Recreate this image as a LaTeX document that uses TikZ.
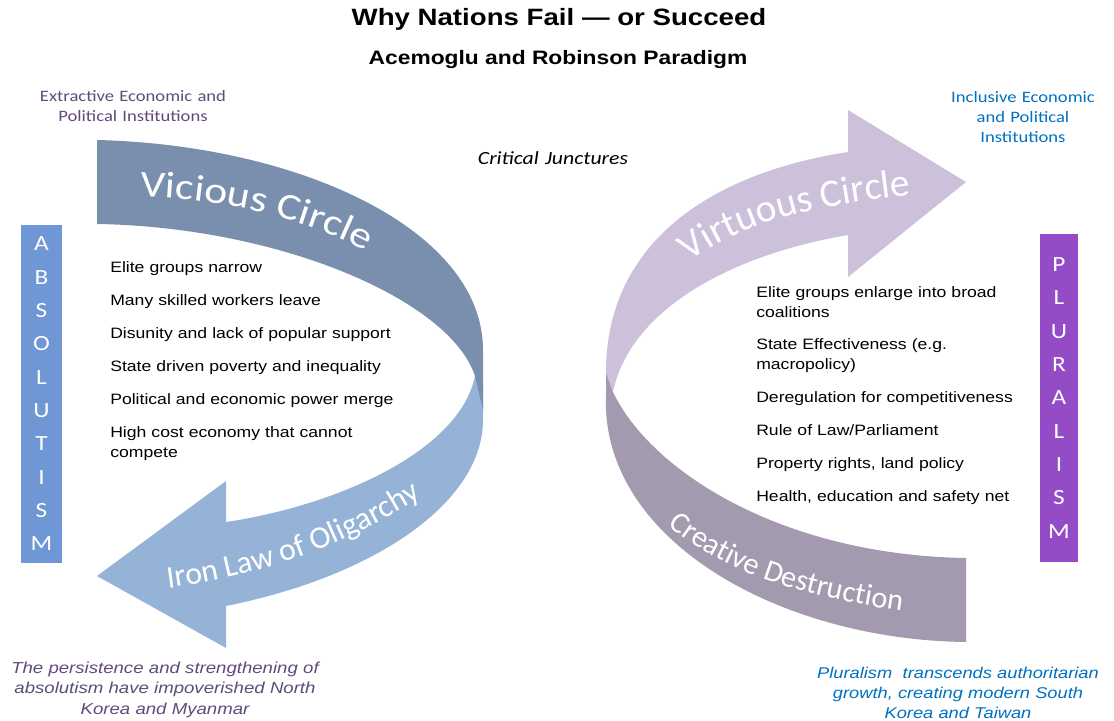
\documentclass[tikz,border=0pt]{standalone}
\usepackage{fontspec}
\setmainfont{Liberation Sans}[FakeStretch=1.17]
\newfontfamily\calib{Carlito}[FakeStretch=1.17]
\newfontfamily\calibn{Carlito}
\usepackage{xcolor}
\usepackage{tikz}
\usetikzlibrary{positioning, decorations.text}

\definecolor{vicious}{HTML}{7A8FAE}
\definecolor{ironlaw}{HTML}{95B3D7}
\definecolor{virtuous}{HTML}{CCC0DA}
\definecolor{creative}{HTML}{A39AAF}
\definecolor{absbar}{HTML}{6F97D5}
\definecolor{plubar}{HTML}{934CC6}
\definecolor{extpurple}{HTML}{604A7B}
\definecolor{incblue}{HTML}{0070C0}

\begin{document}
\begin{tikzpicture}[x=0.025cm,y=-0.025cm]
			\tikzstyle{item}=[anchor=base west,inner sep=0pt,text width=9cm,align=left,font=\fontsize{10.7}{14.2}\selectfont]
			\tikzstyle{note}=[anchor=base,inner sep=0pt,text width=8cm,align=center]
			\tikzstyle{bar}=[inner sep=0pt,text=white,align=center,font=\calib\fontsize{15.4}{23.7}\selectfont]
			\tikzstyle{band}=[decorate,decoration={text along path,text color=white}]
			\useasboundingbox (0,0) rectangle (1114,721);
			% title
			\node[anchor=base,inner sep=0pt,font=\fontsize{16.8}{20}\selectfont\bfseries](title) at (559,26) {Why Nations Fail — or Succeed};
			\node[anchor=base,inner sep=0pt,font=\fontsize{13.85}{16}\selectfont\bfseries](sub) at (558,65) {Acemoglu and Robinson Paradigm};
			% ribbons, lower parts first
			\fill[ironlaw] (475,376) .. controls (460,450) and (340,505) .. (226,522) -- (226,481) -- (97,576) -- (226,648) -- (226,606) .. controls (380,575) and (483,500) .. (483,420) -- (483,380) -- cycle;
			\fill[vicious] (97,140) .. controls (300,145) and (483,230) .. (483,350) -- (483,410) -- (475,376) .. controls (450,300) and (280,227) .. (97,224) -- cycle;
			\fill[creative] (606,372) -- (606,395) .. controls (600,540) and (780,640) .. (966,642) -- (966,558) .. controls (780,555) and (650,470) .. (613,392) -- cycle;
			\fill[virtuous] (606,372) -- (613,392) .. controls (630,310) and (730,255) .. (848,235) -- (848,277) -- (966,182) -- (848,110) -- (848,152) .. controls (700,175) and (606,250) .. (606,372) -- cycle;
			% ribbon texts
			\path[band,decoration={text={|\calib\fontsize{26.5}{30}\selectfont|Vicious Circle}}] (140,197) .. controls (300,200) and (450,270) .. (472,368);
			\path[band,decoration={text={|\calibn\fontsize{22.5}{25}\selectfont|Iron Law of Oligarchy}}] (168,588) .. controls (260,576) and (360,545) .. (460,470);
			\path[band,decoration={text={|\calibn\fontsize{28}{30}\selectfont|Virtuous Circle}}] (690,262) .. controls (742,222) and (812,203) .. (962,190);
			\path[band,decoration={text={|\calibn\fontsize{21.5}{24}\selectfont|Creative Destruction}}] (668,525) .. controls (720,570) and (800,600) .. (940,616);
			% side bars
			\node[bar,fill=absbar,minimum width=1.025cm,minimum height=8.45cm](abs) at (41.5,394) {A\\B\\S\\O\\L\\U\\T\\I\\S\\M};
			\node[bar,fill=plubar,minimum width=0.95cm,minimum height=8.2cm](plu) at (1059,398) {P\\L\\U\\R\\A\\L\\I\\S\\M};
			% institutions
			\node[note,text=extpurple,font=\calib\fontsize{11.3}{14.2}\selectfont](ext) at (133,101.7) {Extractive Economic and\\Political Institutions};
			\node[note,text=incblue,font=\calib\fontsize{11.3}{14.2}\selectfont](inc) at (1023,102.7) {Inclusive Economic\\and Political\\Institutions};
			\node[note,font=\calib\itshape\fontsize{13.2}{15}\selectfont](crit) at (553,165) {Critical Junctures};
			% left list
			\node[item](l1) at (110,272.7) {Elite groups narrow};
			\node[item](l2) at (110,305.7) {Many skilled workers leave};
			\node[item](l3) at (110,338.7) {Disunity and lack of popular support};
			\node[item](l4) at (110,371.7) {State driven poverty and inequality};
			\node[item](l5) at (110,404.7) {Political and economic power merge};
			\node[item](l6) at (110,437.7) {High cost economy that cannot\\compete};
			% right list
			\node[item](r1) at (756,297.3) {Elite groups enlarge into broad\\coalitions};
			\node[item](r2) at (756,350) {State Effectiveness (e.g.\\macropolicy)};
			\node[item](r3) at (756,402.3) {Deregulation for competitiveness};
			\node[item](r4) at (756,435.7) {Rule of Law/Parliament};
			\node[item](r5) at (756,469) {Property rights, land policy};
			\node[item](r6) at (756,501.7) {Health, education and safety net};
			% outcomes
			\node[note,text=extpurple,font=\itshape\fontsize{11.3}{14.9}\selectfont](fail) at (165,673) {The persistence and strengthening of\\absolutism have impoverished North\\Korea and Myanmar};
			\node[note,text=incblue,font=\itshape\fontsize{11.1}{14.5}\selectfont](succ) at (958,678) {Pluralism\ \ transcends authoritarian\\growth, creating modern South\\Korea and Taiwan};
		\end{tikzpicture}
\end{document}
